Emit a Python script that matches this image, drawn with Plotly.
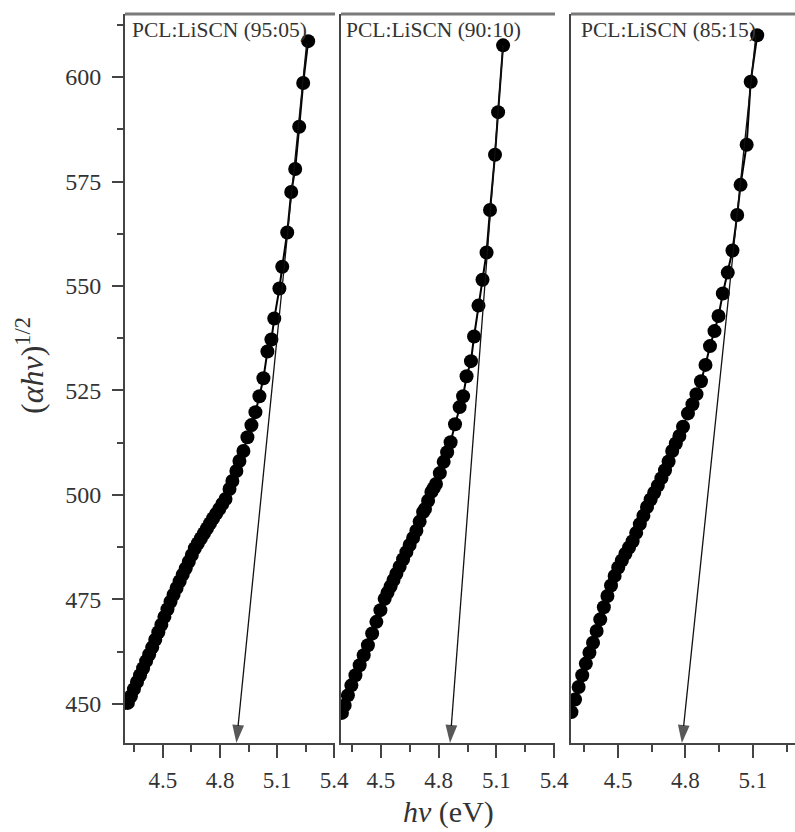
import plotly.graph_objects as go

# ---------------- data ----------------
labels = ["PCL:LiSCN (95:05)", "PCL:LiSCN (90:10)", "PCL:LiSCN (85:15)"]

hv_1 = [4.300, 4.316, 4.332, 4.348, 4.364, 4.380, 4.396, 4.412, 4.428, 4.444,
        4.460, 4.476, 4.492, 4.508, 4.524, 4.540, 4.556, 4.572, 4.588, 4.604,
        4.620, 4.636, 4.652, 4.668, 4.684, 4.700, 4.716, 4.732, 4.748, 4.764,
        4.780, 4.796, 4.812, 4.829, 4.850, 4.865, 4.886, 4.902, 4.923, 4.944,
        4.965, 4.986, 5.007, 5.028, 5.049, 5.070, 5.085, 5.112, 5.127, 5.153,
        5.174, 5.195, 5.216, 5.237, 5.263]
ahv_1 = [448.6, 450.2, 451.8, 453.5, 455.2, 456.8, 458.5, 460.2, 461.8, 463.5,
         465.3, 467.1, 468.9, 470.8, 472.6, 474.4, 476.1, 477.7, 479.3, 480.9,
         482.4, 484.0, 485.6, 487.2, 488.4, 489.6, 490.8, 492.0, 493.2, 494.4,
         495.5, 496.6, 497.8, 499.0, 501.4, 503.3, 505.7, 508.1, 510.5, 513.8,
         516.7, 519.8, 523.6, 527.9, 534.3, 537.2, 542.2, 549.4, 554.6, 562.8,
         572.5, 578.0, 588.1, 598.6, 608.6]

hv_2 = [4.297, 4.311, 4.328, 4.346, 4.367, 4.389, 4.410, 4.432, 4.454, 4.476,
        4.497, 4.519, 4.534, 4.550, 4.565, 4.580, 4.597, 4.615, 4.632, 4.649,
        4.667, 4.684, 4.701, 4.719, 4.729, 4.745, 4.762, 4.774, 4.786, 4.806,
        4.826, 4.844, 4.862, 4.885, 4.909, 4.927, 4.945, 4.968, 4.984, 5.007,
        5.028, 5.049, 5.067, 5.093, 5.109, 5.135]
ahv_2 = [447.8, 449.6, 452.0, 454.4, 456.8, 459.2, 461.6, 464.0, 466.8, 469.6,
         472.4, 475.1, 476.6, 478.1, 479.6, 481.1, 482.8, 484.6, 486.3, 488.0,
         489.7, 491.4, 493.6, 495.9, 496.6, 498.6, 500.7, 501.6, 502.6, 505.2,
         507.9, 510.2, 512.6, 516.9, 521.0, 523.6, 528.4, 532.0, 537.9, 545.3,
         551.5, 558.0, 568.2, 581.4, 591.6, 607.6]

hv_3 = [4.293, 4.309, 4.325, 4.341, 4.357, 4.373, 4.389, 4.405, 4.421, 4.437,
        4.453, 4.469, 4.485, 4.501, 4.517, 4.533, 4.549, 4.565, 4.581, 4.597,
        4.613, 4.629, 4.645, 4.661, 4.677, 4.693, 4.709, 4.725, 4.741, 4.757,
        4.773, 4.789, 4.811, 4.831, 4.849, 4.869, 4.889, 4.909, 4.929, 4.947,
        4.966, 4.988, 5.009, 5.030, 5.045, 5.072, 5.090, 5.119]
ahv_3 = [448.0, 451.0, 454.0, 456.8, 459.6, 462.2, 464.6, 467.4, 470.2, 473.1,
         475.8, 478.3, 480.6, 482.6, 484.3, 485.9, 487.4, 488.9, 490.9, 493.0,
         495.0, 497.1, 498.9, 500.5, 502.2, 504.0, 505.9, 508.0, 510.5, 512.3,
         514.1, 516.3, 519.5, 521.7, 524.1, 527.2, 531.1, 535.6, 539.2, 542.8,
         548.2, 553.2, 558.5, 567.0, 574.2, 583.8, 598.9, 610.0]

# linear-fit extrapolation lines: upper end (hv, value) -> band gap on the axis
fit_top_hv = [5.255, 5.135, 5.113]
fit_top_val = [608.0, 607.6, 610.0]
gap_hv = [4.886, 4.859, 4.784]

x_ranges = [[4.301, 5.404], [4.292, 5.405], [4.291, 5.287]]
y_range = [440.6, 615.1]
x_tickvals = [[4.5, 4.8, 5.1, 5.4], [4.5, 4.8, 5.1, 5.4], [4.5, 4.8, 5.1]]

# ---------------- figure ----------------
W, H = 795, 832
L, R, T, B = 125, 0, 14, 89
PW = W - L - R
PH = H - T - B
px_dom = [(125, 335), (341, 555), (571, 795)]
domains = [[(a - L) / PW, (b - L) / PW] for a, b in px_dom]

FONT = "Liberation Serif"
AX = "#444444"
TXT = "#333333"

series = [(hv_1, ahv_1), (hv_2, ahv_2), (hv_3, ahv_3)]
fig = go.Figure()
for i, (xs, ys) in enumerate(series):
    sfx = "" if i == 0 else str(i + 1)
    fig.add_trace(go.Scatter(
        x=xs, y=ys, mode="lines+markers",
        xaxis="x" + sfx, yaxis="y" + sfx,
        line=dict(color="black", width=2),
        marker=dict(color="black", size=14, symbol="circle"),
        showlegend=False, hoverinfo="x+y"))
    # extrapolated linear fit with arrow head at the band gap
    fig.add_trace(go.Scatter(
        x=[fit_top_hv[i], gap_hv[i]], y=[fit_top_val[i], y_range[0]],
        mode="lines+markers", xaxis="x" + sfx, yaxis="y" + sfx,
        line=dict(color="#111111", width=1.3),
        marker=dict(symbol="arrow", size=[0, 19], angleref="previous",
                    color="#111111", line=dict(width=0)),
        cliponaxis=False, showlegend=False, hoverinfo="skip"))

layout = dict(
    template="none",
    width=W, height=H, autosize=False,
    margin=dict(l=L, r=R, t=T, b=B, pad=0, autoexpand=False),
    paper_bgcolor="white", plot_bgcolor="white",
    font=dict(family=FONT, size=23, color=TXT),
    showlegend=False,
)
annotations = []
shapes = []
for i in range(3):
    sfx = "" if i == 0 else str(i + 1)
    xa = dict(
        domain=domains[i], range=x_ranges[i], anchor="y" + sfx,
        automargin=False,
        showline=True, linecolor=AX, linewidth=2, mirror=False,
        showgrid=False, zeroline=False,
        ticks="outside", ticklen=13, tickwidth=1.5, tickcolor=AX,
        tickmode="array", tickvals=x_tickvals[i],
        ticktext=[f"{v:.1f}" for v in x_tickvals[i]],
        tickfont=dict(family=FONT, size=23, color=TXT),
        ticklabelstandoff=2,
        minor=dict(ticks="outside", ticklen=7, tickwidth=1.5, tickcolor=AX,
                   tickmode="array", tickvals=[4.35, 4.65, 4.95, 5.25]),
    )
    ya = dict(
        domain=[0, 1], range=y_range, anchor="x" + sfx,
        automargin=False,
        showline=True, linecolor=AX, linewidth=2,
        showgrid=False, zeroline=False,
    )
    if i == 0:
        ya.update(
            ticks="outside", ticklen=11, tickwidth=1.5, tickcolor=AX,
            tick0=450, dtick=25, ticksuffix="\u00a0",
            tickfont=dict(family=FONT, size=24, color=TXT),
            minor=dict(ticks="outside", ticklen=6, tickwidth=1.5,
                       tickcolor=AX, tick0=437.5, dtick=25),
        )
    else:
        ya.update(ticks="", showticklabels=False)
    layout["xaxis" + sfx] = xa
    layout["yaxis" + sfx] = ya

    shapes.append(dict(type="line", xref="x" + sfx + " domain",
                       yref="y" + sfx + " domain", x0=0, x1=1, y0=1, y1=1,
                       line=dict(color="#7a7a7a", width=3)))
    lab_px = [130, 344, 579][i]
    annotations.append(dict(
        text=labels[i], xref="paper", yref="paper",
        x=(lab_px - L) / PW, y=(743 - 30) / PH,
        xanchor="left", yanchor="middle", showarrow=False,
        font=dict(family=FONT, size=21.5, color=TXT)))

annotations.append(dict(
    text="<i>hν</i> (eV)", xref="paper", yref="paper",
    x=(448 - L) / PW, y=(743 - 812) / PH,
    xanchor="center", yanchor="middle", showarrow=False,
    font=dict(family=FONT, size=30, color=TXT)))
annotations.append(dict(
    text="(<i>αhν</i>)<sup>1/2</sup>", xref="paper", yref="paper",
    x=(30 - L) / PW, y=(743 - 366) / PH, textangle=-90,
    xanchor="center", yanchor="middle", showarrow=False,
    font=dict(family=FONT, size=32, color=TXT)))

layout["annotations"] = annotations
layout["shapes"] = shapes
fig.update_layout(**layout)

post = ("document.body.style.margin='0';document.body.style.padding='0';"
        "document.body.style.overflow='hidden';")
fig.write_html("out.html", post_script=post,
               config={"displayModeBar": False, "responsive": False})
